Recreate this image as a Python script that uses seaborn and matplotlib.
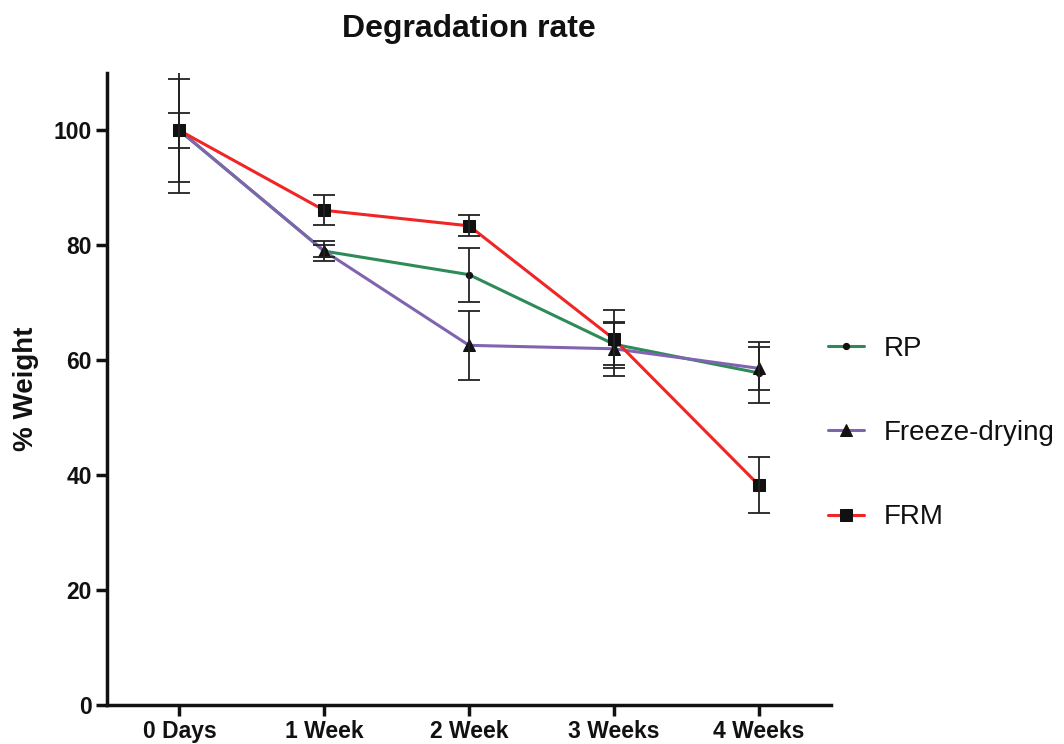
import numpy as np
import pandas as pd
import seaborn as sns
import matplotlib.pyplot as plt

# values
timepoints = ['0 Days', '1 Week', '2 Week', '3 Weeks', '4 Weeks']
groups = ['RP', 'Freeze-drying', 'FRM']

rp_mean = [100.0, 79.0, 74.9, 62.8, 57.8]
rp_err = [10.9, 1.0, 4.7, 3.6, 5.3]
fd_mean = [100.0, 79.0, 62.6, 62.0, 58.6]
fd_err = [9.0, 1.8, 6.0, 4.7, 3.7]
frm_mean = [100.0, 86.1, 83.4, 63.7, 38.3]
frm_err = [3.0, 2.6, 1.8, 5.0, 4.8]

colors = {'RP': '#2e8b57', 'Freeze-drying': '#8064b0', 'FRM': '#f02525'}
markers = {'RP': 'o', 'Freeze-drying': '^', 'FRM': 's'}
msizes = {'RP': 4.5, 'Freeze-drying': 9, 'FRM': 8}

x = np.arange(len(timepoints))
df = pd.DataFrame({
    'time': np.tile(x, 3),
    'weight': rp_mean + fd_mean + frm_mean,
    'err': rp_err + fd_err + frm_err,
    'group': np.repeat(groups, len(timepoints)),
})

sns.set_style('ticks')
plt.rcParams['font.family'] = ['Liberation Sans', 'DejaVu Sans']
plt.rcParams['text.color'] = '#111111'

fig = plt.figure(figsize=(10.64, 7.44), dpi=100)
ax = fig.add_axes([0.1006, 0.0524, 0.6805, 0.8495])

lines = []
for g in groups:
    sub = df[df['group'] == g]
    sns.lineplot(data=sub, x='time', y='weight', color=colors[g], marker=markers[g],
                 markersize=msizes[g], markerfacecolor='#111111', markeredgecolor='#111111',
                 linewidth=2.2, ax=ax, legend=False, zorder=2)
    lines.append(ax.lines[-1])
    ax.errorbar(sub['time'], sub['weight'], yerr=sub['err'], fmt='none', ecolor='#222222',
                elinewidth=1.3, capsize=8, capthick=1.3, zorder=3)

ax.set_xlim(-0.5, 4.5)
ax.set_ylim(0, 110)
ax.set_xticks(x)
ax.set_xticklabels(timepoints)
ax.set_yticks([0, 20, 40, 60, 80, 100])
ax.set_xlabel('')
ax.set_ylabel('% Weight', fontsize=20, fontweight='bold', color='#111111')
ax.yaxis.set_label_coords(-0.094, 0.5)
ax.set_title('Degradation rate', fontsize=23, fontweight='bold', pad=26, color='#111111')

for lab in ax.get_xticklabels() + ax.get_yticklabels():
    lab.set_fontweight('bold')
ax.tick_params(axis='both', labelsize=16.5, length=8, width=2.5, direction='out', pad=3,
               colors='#111111')
sns.despine(ax=ax)
for s in ['left', 'bottom']:
    ax.spines[s].set_linewidth(2.5)
    ax.spines[s].set_color('#111111')

ax.legend(lines, groups,
          loc='center left', bbox_to_anchor=(0.778, 0.418), bbox_transform=fig.transFigure,
          frameon=False, fontsize=20, labelspacing=2.1, handlelength=1.3,
          handletextpad=0.7, borderpad=0, borderaxespad=0)

fig.savefig('out.png', dpi=100)
